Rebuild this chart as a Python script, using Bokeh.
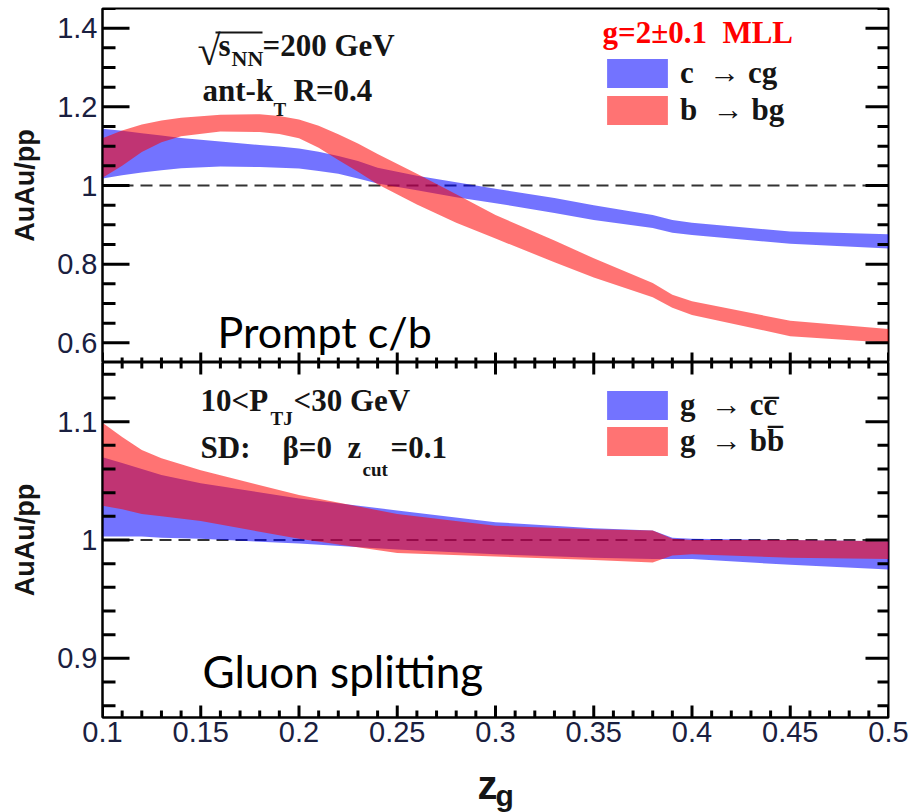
from bokeh.plotting import figure
from bokeh.models import (Range1d, FixedTicker, CustomJSTickFormatter,
                          Label, Legend, LegendItem, Span, BoxAnnotation)
from bokeh.layouts import column
from bokeh.embed import file_html
from bokeh.resources import INLINE

# ---------------- data ----------------
z_top = [0.10, 0.11, 0.12, 0.13, 0.14, 0.16, 0.18, 0.19, 0.20, 0.21, 0.22, 0.23, 0.24, 0.26,
         0.28, 0.30, 0.33, 0.35, 0.38, 0.39, 0.40, 0.45, 0.50]
c_cg_hi = [1.144, 1.139, 1.133, 1.127, 1.121, 1.112, 1.103, 1.099, 1.094, 1.086, 1.075, 1.062,
           1.045, 1.025, 1.008, 0.992, 0.968, 0.950, 0.925, 0.912, 0.905, 0.883, 0.876]
c_cg_lo = [1.018, 1.026, 1.033, 1.039, 1.044, 1.048, 1.047, 1.045, 1.043, 1.037, 1.030, 1.018,
           1.005, 0.988, 0.970, 0.955, 0.930, 0.912, 0.892, 0.880, 0.874, 0.852, 0.840]
b_bg_hi = [1.120, 1.140, 1.155, 1.165, 1.172, 1.180, 1.181, 1.177, 1.168, 1.152, 1.130, 1.107,
           1.080, 1.030, 0.978, 0.925, 0.860, 0.815, 0.752, 0.722, 0.706, 0.656, 0.635]
b_bg_lo = [1.020, 1.050, 1.085, 1.110, 1.125, 1.137, 1.136, 1.131, 1.120, 1.096, 1.065, 1.035,
           1.003, 0.952, 0.905, 0.865, 0.805, 0.766, 0.716, 0.689, 0.671, 0.617, 0.600]

z_bot = [0.10, 0.11, 0.12, 0.13, 0.15, 0.20, 0.25, 0.30, 0.35, 0.38, 0.39, 0.40, 0.45, 0.50]
g_cc_hi = [1.070, 1.065, 1.060, 1.055, 1.048, 1.035, 1.025, 1.015, 1.010, 1.008, 1.002, 1.001, 1.000, 0.999]
g_cc_lo = [1.003, 1.003, 1.003, 1.002, 1.001, 0.997, 0.992, 0.988, 0.985, 0.984, 0.984, 0.984, 0.979, 0.975]
g_bb_hi = [1.099, 1.087, 1.076, 1.069, 1.059, 1.038, 1.022, 1.012, 1.009, 1.008, 1.001, 1.000, 1.000, 0.999]
g_bb_lo = [1.029, 1.026, 1.022, 1.020, 1.016, 1.001, 0.989, 0.986, 0.983, 0.981, 0.987, 0.988, 0.985, 0.984]

x_major = [0.10, 0.15, 0.20, 0.25, 0.30, 0.35, 0.40, 0.45, 0.50]
x_minor = [round(0.10 + 0.01 * i, 2) for i in range(41)]
top_major = [0.6, 0.8, 1.0, 1.2, 1.4]
top_minor = [round(0.55 + 0.05 * i, 2) for i in range(19)]
bot_major = [0.9, 1.0, 1.1]
bot_minor = [round(0.86 + 0.02 * i, 2) for i in range(15)]

X0, X1 = 0.1, 0.5
TOP_Y = (0.55, 1.45)
BOT_Y = (0.85, 1.15)

BLUE = "#0000ff"
RED = "#ff0000"
ALPHA = 0.55
TICK_COL = "#1a2040"
TXT_COL = "#151515"
SERIF = "Liberation Serif"
SANS = "Liberation Sans"

W = 913
BL, BR = 102, 25
TOP_H, TOP_BT = 362, 8
BOT_H, BOT_BB = 400, 45
LAB_H = 812 - TOP_H - BOT_H
FRAME_W = W - BL - BR

fmt = CustomJSTickFormatter(code="return String(Math.round(tick*100)/100);")


def style_axis(ax, ticker):
    ax.ticker = ticker
    ax.formatter = fmt
    ax.axis_line_width = 2
    ax.axis_line_color = "black"
    ax.major_tick_in = 0
    ax.major_tick_out = 0
    ax.minor_tick_in = 0
    ax.minor_tick_out = 0
    ax.major_label_text_font = SANS
    ax.major_label_text_font_size = "29px"
    ax.major_label_text_color = TICK_COL
    ax.major_label_standoff = 5


def make_fig(height, yr, border_top, border_bottom, xloc, yloc):
    p = figure(width=W, height=height, x_range=Range1d(X0, X1), y_range=Range1d(*yr),
               min_border_left=BL, min_border_right=BR,
               min_border_top=border_top, min_border_bottom=border_bottom,
               x_axis_location=xloc, y_axis_location=yloc,
               output_backend="svg", toolbar_location=None)
    p.xgrid.visible = False
    p.ygrid.visible = False
    p.background_fill_color = "white"
    p.border_fill_color = "white"
    p.outline_line_color = "black"
    p.outline_line_width = 2
    return p


def minors_only(minor, major):
    return [t for t in minor if all(abs(t - m) > 1e-9 for m in major)]


def add_ticks(p, yr, fh, ymaj, ymin, top_len, bot_len):
    """Inward pointing tick marks drawn as line glyphs, lengths in px."""
    dxp = (X1 - X0) / FRAME_W
    dyp = (yr[1] - yr[0]) / fh
    ymn = minors_only(ymin, ymaj)
    xmn = minors_only(x_minor, x_major)
    xs, ys = [], []
    for ticks, ln_l, ln_r in ((ymaj, 27, 23), (ymn, 13, 11)):
        for t in ticks:
            xs.append([X0, X0 + ln_l * dxp])
            ys.append([t, t])
            xs.append([X1, X1 - ln_r * dxp])
            ys.append([t, t])
    if top_len:
        for ticks, ln in ((x_major, top_len[0]), (xmn, top_len[1])):
            for t in ticks:
                xs.append([t, t])
                ys.append([yr[1], yr[1] - ln * dyp])
    if bot_len:
        for ticks, ln in ((x_major, bot_len[0]), (xmn, bot_len[1])):
            for t in ticks:
                xs.append([t, t])
                ys.append([yr[0], yr[0] + ln * dyp])
    p.multi_line(xs=xs, ys=ys, line_color="#000000", line_width=3)


def px2z(px):
    return X0 + (px - BL) * (X1 - X0) / FRAME_W


def py_top(py):
    fh = TOP_H - TOP_BT
    return TOP_Y[1] - (py - TOP_BT) * (TOP_Y[1] - TOP_Y[0]) / fh


def py_bot(py):
    fh = BOT_H - BOT_BB
    return BOT_Y[1] - (py - TOP_H) * (BOT_Y[1] - BOT_Y[0]) / fh


def lab(p, x, y, text, size=31, font=SERIF, style="bold", color=TXT_COL):
    p.add_layout(Label(x=x, y=y, text=text, text_font=font, text_font_style=style,
                       text_font_size=f"{size}px", text_color=color,
                       text_align="left", text_baseline="middle"))


def ylabel(ax):
    ax.axis_label = "AuAu/pp"
    ax.axis_label_text_font = SANS
    ax.axis_label_text_font_style = "bold"
    ax.axis_label_text_font_size = "27px"
    ax.axis_label_text_color = TXT_COL
    ax.axis_label_standoff = 14


leg_kw = dict(glyph_width=76, glyph_height=36, label_height=36, padding=0, margin=0,
              label_standoff=5, border_line_alpha=0, background_fill_alpha=0,
              label_text_font=SERIF, label_text_font_style="bold",
              label_text_font_size="31px", label_text_color=TXT_COL)

# ---------------- upper panel ----------------
top = make_fig(TOP_H, TOP_Y, TOP_BT, 0, None, "left")
style_axis(top.yaxis[0], FixedTicker(ticks=top_major, minor_ticks=top_minor))
ylabel(top.yaxis[0])

top.add_layout(Span(location=1.0, dimension="width", line_color="#333333",
                    line_width=2, line_dash="12 7", level="underlay"))
rb = top.varea(x=z_top, y1=c_cg_lo, y2=c_cg_hi, fill_color=BLUE, fill_alpha=ALPHA)
rr = top.varea(x=z_top, y1=b_bg_lo, y2=b_bg_hi, fill_color=RED, fill_alpha=ALPHA)
add_ticks(top, TOP_Y, TOP_H - TOP_BT, top_major, top_minor, None, (10, 5))

top.add_layout(Legend(items=[LegendItem(label="c\u00a0\u00a0\u2192\u00a0cg", renderers=[rb]),
                             LegendItem(label="b\u00a0\u00a0\u2192\u00a0bg", renderers=[rr])],
                      location=(497, 234), spacing=1, **leg_kw))

lab(top, px2z(197), py_top(50), "\u221a", size=42, style="normal")
top.add_layout(BoxAnnotation(left=px2z(215), right=px2z(262), top=py_top(31), bottom=py_top(33),
                             fill_color=TXT_COL, fill_alpha=1, line_alpha=0))
lab(top, px2z(218), py_top(44.5), "s")
lab(top, px2z(231), py_top(57.5), "NN", size=22)
lab(top, px2z(262), py_top(44.5), "=200 GeV")
lab(top, px2z(202), py_top(89.5), "ant-k")
lab(top, px2z(273), py_top(108.5), "T", size=19)
lab(top, px2z(293), py_top(89.5), "R=0.4")
lab(top, px2z(602), py_top(31.5), "g=2\u00b10.1\u00a0\u00a0MLL", color=RED)
lab(top, px2z(217), py_top(330.5), "Prompt c/b", size=43, font="Lato", style="normal", color="black")

# ---------------- lower panel ----------------
bot = make_fig(BOT_H, BOT_Y, 0, BOT_BB, "below", "left")
style_axis(bot.xaxis[0], FixedTicker(ticks=x_major, minor_ticks=x_minor))
bot.xaxis[0].major_label_standoff = 4
style_axis(bot.yaxis[0], FixedTicker(ticks=bot_major, minor_ticks=bot_minor))
ylabel(bot.yaxis[0])

bot.add_layout(Span(location=1.0, dimension="width", line_color="#333333",
                    line_width=2, line_dash="12 7", level="underlay"))
rb2 = bot.varea(x=z_bot, y1=g_cc_lo, y2=g_cc_hi, fill_color=BLUE, fill_alpha=ALPHA)
rr2 = bot.varea(x=z_bot, y1=g_bb_lo, y2=g_bb_hi, fill_color=RED, fill_alpha=ALPHA)
add_ticks(bot, BOT_Y, BOT_H - BOT_BB, bot_major, bot_minor, (12, 6), (12, 7))

bot.add_layout(Legend(items=[LegendItem(label="g\u00a0\u00a0\u2192\u00a0cc\u0305", renderers=[rb2]),
                             LegendItem(label="g\u00a0\u00a0\u2192\u00a0bb\u0305", renderers=[rr2])],
                      location=(497, 258), spacing=0, **leg_kw))

lab(bot, px2z(200), py_bot(399.5), "10<P")
lab(bot, px2z(270), py_bot(417.5), "TJ", size=19)
lab(bot, px2z(293), py_bot(399.5), "<30 GeV")
lab(bot, px2z(200), py_bot(446.5), "SD:")
lab(bot, px2z(282), py_bot(446.5), "\u03b2=0")
lab(bot, px2z(347), py_bot(446.5), "z")
lab(bot, px2z(362), py_bot(468.5), "cut", size=19)
lab(bot, px2z(390), py_bot(446.5), "=0.1")
lab(bot, px2z(202), py_bot(670.5), "Gluon splitting", size=44, font="Lato", style="normal", color="black")

# ---------------- x-axis title strip: z_g ----------------
ttl = figure(width=W, height=LAB_H, x_range=Range1d(X0, X1), y_range=Range1d(0, LAB_H),
             min_border_left=BL, min_border_right=BR, min_border_top=0, min_border_bottom=0,
             x_axis_location=None, y_axis_location=None,
             output_backend="svg", toolbar_location=None)
ttl.xgrid.visible = False
ttl.ygrid.visible = False
ttl.outline_line_color = None
ttl.background_fill_color = "white"
ttl.border_fill_color = "white"
y_strip_top = TOP_H + BOT_H
lab(ttl, px2z(477), y_strip_top + LAB_H - 784, "z", size=40, font=SANS, color=TXT_COL)
lab(ttl, px2z(495), y_strip_top + LAB_H - 795, "g", size=30, font=SANS, color=TXT_COL)

layout = column(top, bot, ttl)
open("out.html", "w").write(file_html(layout, INLINE))
